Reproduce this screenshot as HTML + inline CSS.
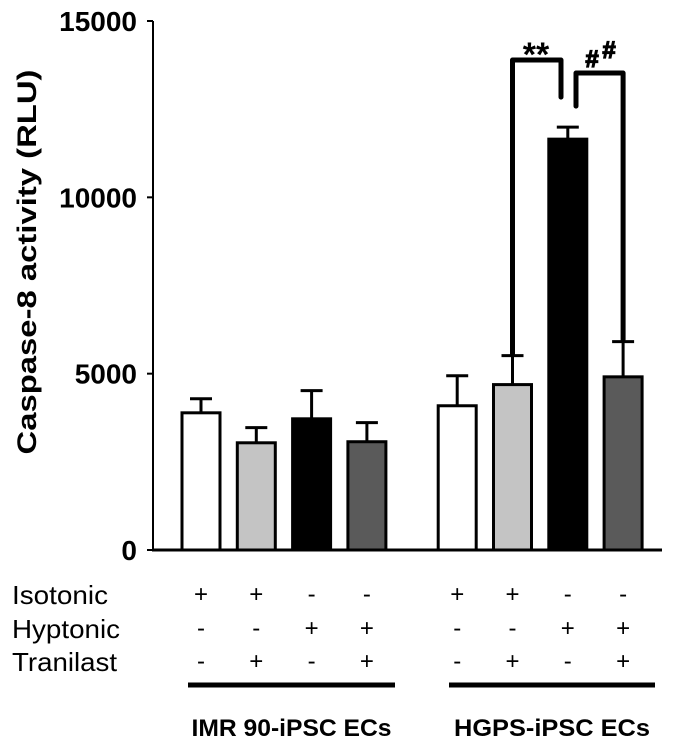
<!DOCTYPE html>
<html><head><meta charset="utf-8"><style>
html,body{margin:0;padding:0;background:#fff}
svg{display:block;font-family:"Liberation Sans",Arial,sans-serif}
</style></head><body>
<svg id="chart" width="678" height="753" viewBox="0 0 678 753">
<g id="axes"></g>
<g id="bars"></g>
<g id="annot"></g>
<g id="table"></g>
</svg>
<script>
const categories = ["IMR-iso","IMR-iso-tra","IMR-hypo","IMR-hypo-tra","HGPS-iso","HGPS-iso-tra","HGPS-hypo","HGPS-hypo-tra"];
const values = [3890, 3040, 3720, 3070, 4090, 4690, 11650, 4910];
const errors = [400, 430, 800, 540, 850, 820, 340, 1000];
const yTicks = [0, 5000, 10000, 15000];
const isotonic = ["+","+","-","-","+","+","-","-"];
const hyptonic = ["-","-","+","+","-","-","+","+"];
const tranilast = ["-","+","-","+","-","+","-","+"];
const groups = ["IMR 90-iPSC ECs","HGPS-iPSC ECs"];

const NS="http://www.w3.org/2000/svg";
function mk(tag, attrs, parent, text){const e=document.createElementNS(NS,tag);for(const k in attrs)e.setAttribute(k,attrs[k]);if(text!==undefined)e.textContent=text;parent.appendChild(e);return e;}
const y0=550,y1=21,yMax=15000;
function yS(v){return y0-(v/yMax)*(y0-y1);}
const barW=38;
function xS(i){return 182+i*55.3+(i>=4?35:0);}
function xc(i){return xS(i)+barW/2;}
const fills=["#fff","#c4c4c4","#000","#5a5a5a"];

const axes=document.getElementById('axes');
let l=mk('line',{x1:153,y1:y1,x2:153,y2:y0+1,stroke:'#000','stroke-width':2},axes);


l=mk('line',{x1:152,y1:y0,x2:662,y2:y0,stroke:'#000','stroke-width':3},axes);


yTicks.forEach(t=>{
  const y=yS(t);
  const tk=mk('line',{x1:147,y1:y,x2:153,y2:y,stroke:'#000','stroke-width':2},axes);
  
  
  const tx=mk('text',{x:137,y:y+10,'text-anchor':'end','font-size':28,'font-weight':'bold'},axes,String(t));
  
  
});
const title=mk('text',{x:0,y:0,transform:'translate(36,262) rotate(-90)','text-anchor':'middle','font-size':27,'font-weight':'bold',textLength:385,lengthAdjust:'spacingAndGlyphs'},axes,'Caspase-8 activity (RLU)');



const bars=document.getElementById('bars');
values.forEach((v,i)=>{
  const x=xS(i),top=yS(v),et=yS(v+errors[i]),c=xc(i);
  const e1=mk('line',{x1:c,y1:top,x2:c,y2:et,stroke:'#000','stroke-width':3},bars);
  
  
  const e2=mk('line',{x1:c-11,y1:et,x2:c+11,y2:et,stroke:'#000','stroke-width':3},bars);
  
  
  const r=mk('rect',{x:x,y:top,width:barW,height:y0-top,fill:fills[i%4],stroke:'#000','stroke-width':3},bars);
  
  
});

const an=document.getElementById('annot');
const b1=yS(values[5]+errors[5])-2, b1r=yS(values[6]+errors[6])-30;
let p=mk('path',{d:`M${xc(5)},${b1} V60 H561 V${b1r}`,fill:'none',stroke:'#000','stroke-width':5,'stroke-linecap':'round','stroke-linejoin':'round'},an);


p=mk('path',{d:`M576,${b1r+9} V73 H${xc(7)} V${yS(values[7]+errors[7])-2}`,fill:'none',stroke:'#000','stroke-width':5,'stroke-linecap':'round','stroke-linejoin':'round'},an);


let t=mk('text',{x:536,y:66,'text-anchor':'middle','font-size':34,'font-weight':'bold'},an,'**');


t=mk('text',{x:592,y:67,'text-anchor':'middle','font-size':24,'font-weight':'bold',stroke:'#000','stroke-width':1.2},an,'#');


t=mk('text',{x:609,y:58,'text-anchor':'middle','font-size':24,'font-weight':'bold',stroke:'#000','stroke-width':1.2},an,'#');



const tb=document.getElementById('table');
const rows=[["Isotonic",isotonic,604,96],["Hyptonic",hyptonic,638,108],["Tranilast",tranilast,671,105]];
rows.forEach(([name,arr,y,w])=>{
  const lab=mk('text',{x:12,y:y,'font-size':26,textLength:w,lengthAdjust:'spacingAndGlyphs'},tb,name);
  
  
  arr.forEach((s,i)=>{
    const m=mk('text',{x:xc(i),y:y-2,'text-anchor':'middle','font-size':24},tb,s);
    
    
  });
});
[[188,395],[449,655]].forEach((g,k)=>{
  const gl=mk('line',{x1:g[0],y1:685,x2:g[1],y2:685,stroke:'#000','stroke-width':5},tb);
  
  
  const gt=mk('text',{x:(g[0]+g[1])/2,y:736,'text-anchor':'middle','font-size':24,'font-weight':'bold',textLength:k===0?200:196,lengthAdjust:'spacingAndGlyphs'},tb,groups[k]);
  
  
});
</script>
</body></html>
